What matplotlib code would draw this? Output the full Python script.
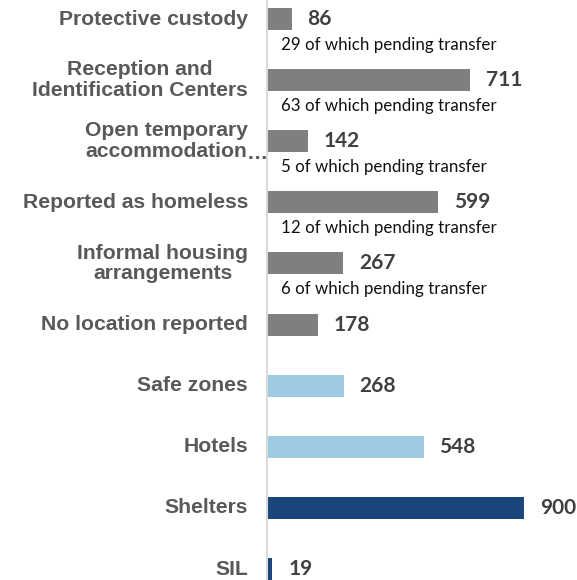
import numpy as np
import matplotlib
matplotlib.use("Agg")
import matplotlib.pyplot as plt

# categories, top to bottom
categories = ["Protective custody",
              "Reception and\nIdentification Centers",
              "Open temporary\naccommodation",
              "Reported as homeless",
              "Informal housing\narrangements",
              "No location reported",
              "Safe zones",
              "Hotels",
              "Shelters",
              "SIL"]
values = [86, 711, 142, 599, 267, 178, 268, 548, 900, 19]
pending = [29, 63, 5, 12, 6, None, None, None, None, None]
groups = ["other"] * 6 + ["light"] * 2 + ["dark"] * 2
truncated = 2  # label cut off with an ellipsis

colors = {"other": "#7f7f7f", "light": "#9dcae1", "dark": "#1a467a"}

fig = plt.figure(figsize=(5.77, 5.80), dpi=100)
ax = fig.add_axes([267 / 577, 0, 310 / 577, 1])

y = np.arange(len(values))
ax.barh(y, values, height=0.36, color=[colors[g] for g in groups])

ax.set_xlim(0, 1085)
ax.set_ylim(9.18, -0.311)
for s in ["top", "right", "bottom"]:
    ax.spines[s].set_visible(False)
ax.spines["left"].set_color("#d9d9d9")
ax.spines["left"].set_linewidth(1.5)
ax.set_xticks([])
ax.set_yticks([])

lab = dict(fontsize=15.2, fontweight="bold", color="#595959",
           family="Liberation Sans")
for i, (cat, v, p) in enumerate(zip(categories, values, pending)):
    ax.annotate(cat, xy=(0, i), xytext=(-19, 0), textcoords="offset pixels",
                ha="right", va="center", multialignment="center",
                linespacing=1.12, **lab)
    if i == truncated:
        ax.annotate("\u2026", xy=(0, i), xytext=(-20, -12),
                    textcoords="offset pixels", ha="left", va="center", **lab)
    ax.annotate(str(v), xy=(v, i), xytext=(16, 0), textcoords="offset pixels",
                ha="left", va="center", fontsize=15, fontweight="bold",
                color="#404040", family="Lato")
    if p is not None:
        ax.annotate(f"{p} of which pending transfer", xy=(0, i),
                    xytext=(14, -26), textcoords="offset pixels",
                    ha="left", va="center", fontsize=12.2, color="#111111",
                    family="Lato")

fig.savefig("out.png", dpi=100)
